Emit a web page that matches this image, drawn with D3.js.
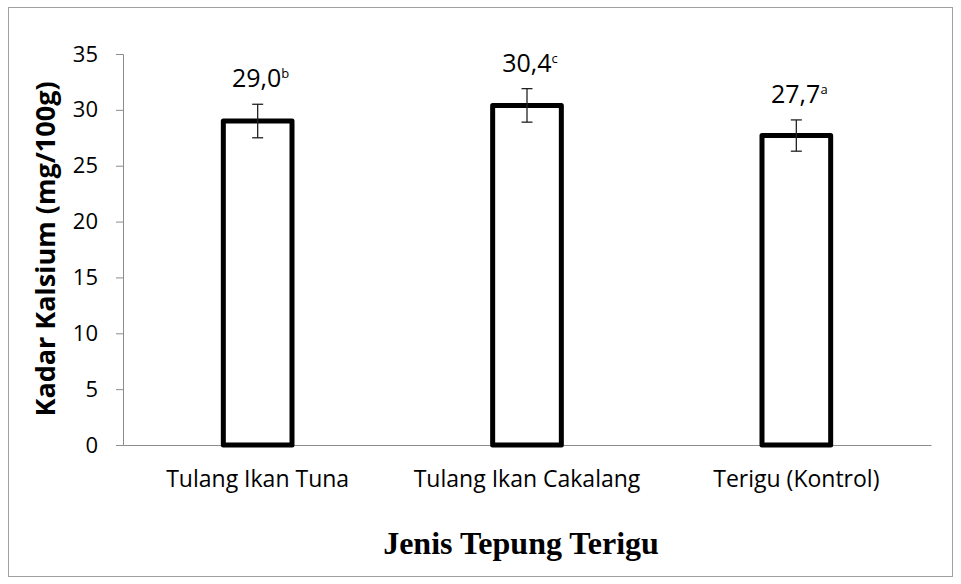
<!DOCTYPE html>
<html>
<head>
<meta charset="utf-8">
<script src="https://cdn.jsdelivr.net/npm/d3@7"></script>
<style>
  body { margin: 0; background: #fff; }
  text { font-family: "Open Sans", sans-serif; }
</style>
</head>
<body>
<div id="chart"></div>
<script>
// data
let categories = ["Tulang Ikan Tuna", "Tulang Ikan Cakalang", "Terigu (Kontrol)"];
let values = [29.0, 30.4, 27.7];
let errors = [1.5, 1.5, 1.4];
let letters = ["b", "c", "a"];
let yTicks = [0, 5, 10, 15, 20, 25, 30, 35];

let W = 961, H = 584;
let m = {top: 54, right: 30, bottom: 139, left: 123};

let svg = d3.select("#chart")
  .append("svg")
  .attr("width", W)
  .attr("height", H);

// outer frame
svg.append("rect")
  .attr("x", 8.5).attr("y", 7.5)
  .attr("width", 944).attr("height", 569)
  .attr("fill", "none")
  .attr("stroke", "#a0a0a0")
  .attr("stroke-width", 1);

let x = d3.scaleBand()
  .domain(categories)
  .range([m.left, W - m.right]);

let y = d3.scaleLinear()
  .domain([0, 35])
  .range([H - m.bottom, m.top]);

// y axis
let yAxis = svg.append("g")
  .attr("transform", "translate(" + m.left + ",0)")
  .call(d3.axisLeft(y).tickValues(yTicks).tickSize(7).tickPadding(18).tickFormat(d3.format("d")));
yAxis.select(".domain").attr("stroke", "#8c8c8c");
yAxis.selectAll(".tick line").attr("stroke", "#8c8c8c");
yAxis.selectAll(".tick text")
  .style("font-size", "22px")
  .attr("fill", "#000");

// x axis
let xAxis = svg.append("g")
  .attr("transform", "translate(0," + y(0) + ")")
  .call(d3.axisBottom(x).tickSize(0).tickPadding(26).tickSizeOuter(0));
xAxis.select(".domain").attr("stroke", "#8c8c8c");
xAxis.selectAll(".tick text")
  .style("font-size", "23px")
  .attr("fill", "#000");

// bars
let bw = x.bandwidth() * 0.255;
svg.selectAll("rect.bar")
  .data(values)
  .enter()
  .append("rect")
  .attr("class", "bar")
  .attr("x", (d, i) => x(categories[i]) + x.bandwidth() / 2 - bw / 2)
  .attr("y", (d) => y(d))
  .attr("width", bw)
  .attr("height", (d) => y(0) - y(d))
  .attr("fill", "#fff")
  .attr("stroke", "#000")
  .attr("stroke-width", 5)
  .attr("stroke-linejoin", "round");

// error bars
let cap = 5.5;
let eb = svg.selectAll("g.err")
  .data(values)
  .enter()
  .append("g")
  .attr("class", "err")
  .attr("stroke", "#222")
  .attr("stroke-width", 1.3);
eb.append("line")
  .attr("x1", (d, i) => x(categories[i]) + x.bandwidth() / 2)
  .attr("x2", (d, i) => x(categories[i]) + x.bandwidth() / 2)
  .attr("y1", (d, i) => y(d + errors[i]))
  .attr("y2", (d, i) => y(d - errors[i]));
eb.append("line")
  .attr("x1", (d, i) => x(categories[i]) + x.bandwidth() / 2 - cap)
  .attr("x2", (d, i) => x(categories[i]) + x.bandwidth() / 2 + cap)
  .attr("y1", (d, i) => y(d + errors[i]))
  .attr("y2", (d, i) => y(d + errors[i]));
eb.append("line")
  .attr("x1", (d, i) => x(categories[i]) + x.bandwidth() / 2 - cap)
  .attr("x2", (d, i) => x(categories[i]) + x.bandwidth() / 2 + cap)
  .attr("y1", (d, i) => y(d - errors[i]))
  .attr("y2", (d, i) => y(d - errors[i]));

// value labels with superscript letters
let lab = svg.selectAll("text.val")
  .data(values)
  .enter()
  .append("text")
  .attr("class", "val")
  .attr("x", (d, i) => x(categories[i]) + x.bandwidth() / 2 + 3)
  .attr("y", (d, i) => y(d + errors[i]) - 17)
  .attr("text-anchor", "middle")
  .style("font-size", "25px")
  .attr("fill", "#000");
lab.append("tspan")
  .text((d) => d.toFixed(1).replace(".", ","));
lab.append("tspan")
  .attr("dy", -9)
  .style("font-size", "13px")
  .text((d, i) => letters[i]);

// axis titles
svg.append("text")
  .attr("transform", "translate(55,249) rotate(-90)")
  .attr("text-anchor", "middle")
  .style("font-size", "27px")
  .style("font-weight", "bold")
  .attr("fill", "#000")
  .text("Kadar Kalsium (mg/100g)");

svg.append("text")
  .attr("x", 521)
  .attr("y", 554)
  .attr("text-anchor", "middle")
  .style("font-family", "'Liberation Serif', 'Times New Roman', serif")
  .style("font-size", "32px")
  .style("font-weight", "bold")
  .attr("fill", "#000")
  .text("Jenis Tepung Terigu");
</script>
</body>
</html>
